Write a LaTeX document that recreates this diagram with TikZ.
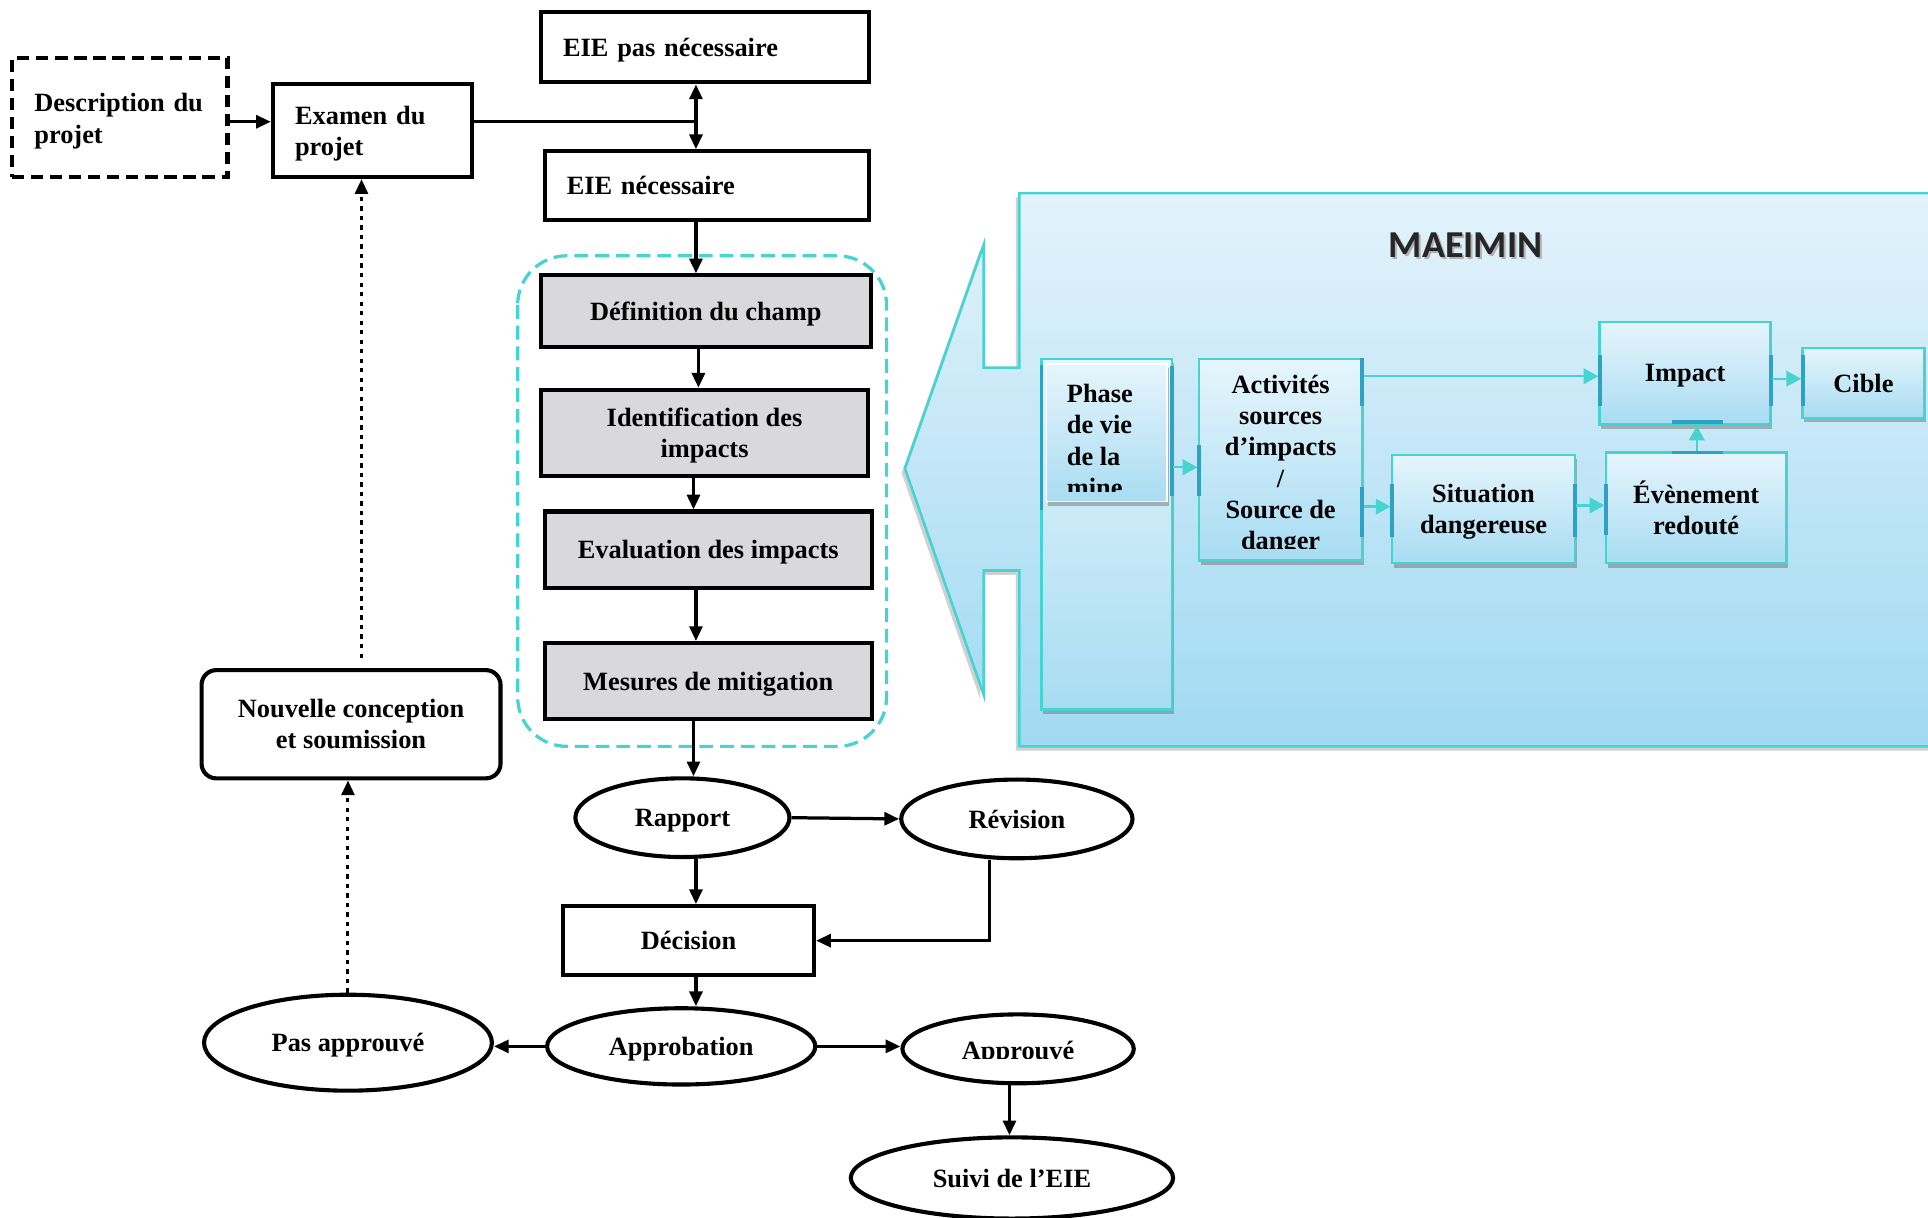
\documentclass[tikz,border=0pt]{standalone}
\usepackage{fontspec}
\setmainfont{Liberation Serif}
\newfontfamily\maeifont{Carlito}
\usepackage{tikz}
\usetikzlibrary{positioning}
\usetikzlibrary{shapes.geometric,arrows.meta,shadows}
\definecolor{cyanline}{HTML}{48D3D3}
\definecolor{panelTop}{HTML}{E3F3FB}
\definecolor{panelBot}{HTML}{A0D9F2}
\definecolor{boxTop}{HTML}{E6F5FC}
\definecolor{boxBot}{HTML}{A8DCF2}
\definecolor{greybox}{HTML}{D9D9DB}
\definecolor{accent}{HTML}{2EA2C4}

\tikzset{
  every node/.style = {font=\bfseries\fontsize{6.1}{7.2}\selectfont, inner sep=0pt, text depth=0pt},
  box/.style = {draw, line width=0.95pt},
  leftbox/.style = {box, align=left, inner xsep=0.18cm},
  greyb/.style = {box, fill=greybox, align=center, minimum width=2.66cm},
  ell/.style = {draw, ellipse, line width=0.95pt},
  arr/.style = {line width=0.75pt, -{Triangle[length=1.2mm,width=1.05mm]}},
  dots/.style = {line width=0.7pt, dash pattern=on 1pt off 1.2pt, -{Triangle[length=1.2mm,width=1.05mm]}},
  mbox/.style = {draw=cyanline, line width=0.6pt, top color=boxTop, bottom color=boxBot, align=center,
    drop shadow={shadow xshift=0.4pt, shadow yshift=-1pt, opacity=0.45, fill=black!60}},
  carr/.style = {cyanline, line width=0.55pt, -{Triangle[length=1.2mm,width=1.25mm]}},
  acc/.style = {accent, line width=0.9pt}
}

\begin{document}
\begin{tikzpicture}[x=0.01cm, y=-0.01cm]
\useasboundingbox (0,0) rectangle (1568,990);

% panneau MAEIMIN
\draw[cyanline, line width=0.6pt, top color=panelTop, bottom color=panelBot,
  drop shadow={shadow xshift=-0.8pt, shadow yshift=-1pt, opacity=0.3, fill=black!60}]
  (829,157) -- (1580,157) -- (1580,607) -- (829,607) -- (829,464) -- (800,464)
  -- (800,565) -- (736,381) -- (800,199) -- (800,299) -- (829,299) -- cycle;
\node[font=\maeifont\bfseries\fontsize{8.8}{10}\selectfont, text=black!30] (titreombre) at (1193.5,201) {MAEIMIN};
\node[font=\maeifont\bfseries\fontsize{8.8}{10}\selectfont, text=black!85] (titre) at (1192,199) {MAEIMIN};

\node[mbox, minimum width=1.06cm, minimum height=2.85cm] (phase) at (900,434.5) {};
\node[draw=white, line width=0.3pt, top color=boxTop, bottom color=boxBot,
  drop shadow={shadow xshift=0.4pt, shadow yshift=-1pt, opacity=0.45, fill=black!60},
  minimum width=0.98cm, minimum height=1.12cm] (phasein) at (900,352) {};
\begin{scope}
  \clip (851,296) rectangle (949,400);
  \node[anchor=north west, align=left] (phasetxt) at (867,312) {Phase\\de vie\\de la\\mine};
\end{scope}

\node[mbox, minimum width=1.33cm, minimum height=1.64cm] (act) at (1041.5,374) {};
\begin{scope}
  \clip (976,293) rectangle (1107,446);
  \node[align=center] (acttxt) at (1041.5,376) {Activités\\sources\\d’impacts\\/\\Source de\\danger};
\end{scope}
\node[mbox, minimum width=1.49cm, minimum height=0.88cm] (sit) at (1206.5,414) {Situation\\dangereuse};
\node[mbox, minimum width=1.47cm, minimum height=0.90cm] (even) at (1379.5,413) {Évènement\\redouté};
\node[mbox, minimum width=1.39cm, minimum height=0.83cm] (imp) at (1370.5,303.5) {Impact};
\node[mbox, minimum width=0.99cm, minimum height=0.57cm] (cible) at (1515.5,311.5) {Cible};

\foreach \xa/\ya/\xb/\yb in {1301/289/1301/330, 1440/289/1440/330, 1360/343/1401/343,
    1360/368/1401/368, 1306/394/1306/435, 1466/289/1466/330, 975/362/975/403,
    1108/291/1108/330, 1108/396/1108/437, 953/298/953/403, 847/297/847/415,
    1132/394/1132/437, 1281/394/1281/437}
  \draw[acc] (\xa,\ya) -- (\xb,\yb);

\draw[carr] (phase.east |- 0,380) -- (act.west |- 0,380);
\draw[carr] (act.east |- 0,412) -- (sit.west |- 0,412);
\draw[carr] (act.east |- 0,306) -- (imp.west |- 0,306);
\draw[carr] (sit.east |- 0,411) -- (even.west |- 0,411);
\draw[carr] (even.north -| 1380,0) -- (imp.south -| 1380,0);
\draw[carr] (imp.east |- 0,308) -- (cible.west |- 0,308);

% cadre des etapes de l'EIE
\draw[cyanline, line width=0.75pt, dash pattern=on 3.2pt off 1.6pt, rounded corners=0.4cm]
  (421,208) rectangle (721,607);

\node[leftbox, dash pattern=on 2.8pt off 1.6pt, text width=1.39cm, text depth=6.8pt, minimum height=0.97cm] (desc) at (97.5,95.5) {Description du\\projet};
\node[leftbox, text width=1.26cm, text depth=6.8pt, minimum height=0.76cm] (exam) at (303,106) {Examen du\\projet};
\node[leftbox, text width=2.31cm, minimum height=0.57cm] (pasnec) at (573.5,38.5) {EIE pas nécessaire};
\node[leftbox, text width=2.28cm, minimum height=0.56cm] (nec) at (575,151) {EIE nécessaire};

\node[greyb, minimum height=0.58cm, minimum width=2.68cm] (def) at (574,253) {Définition du champ};
\node[greyb, minimum height=0.70cm] (ident) at (573,352) {Identification des\\impacts};
\node[greyb, minimum height=0.62cm] (eval) at (576,447) {Evaluation des impacts};
\node[greyb, minimum height=0.62cm] (mes) at (576,554) {Mesures de mitigation};

\node[ell, minimum width=1.74cm, minimum height=0.64cm] (rap) at (555,665) {Rapport};
\node[ell, minimum width=1.88cm, minimum height=0.64cm] (rev) at (827,666) {Révision};
\node[box, minimum width=2.04cm, minimum height=0.56cm] (dec) at (560,765) {Décision};
\node[ell, minimum width=2.18cm, minimum height=0.62cm] (appro) at (554,851) {Approbation};
\node[ell, minimum width=2.34cm, minimum height=0.78cm] (pasap) at (283,848) {Pas approuvé};
\node[ell, minimum width=1.88cm, minimum height=0.56cm] (appv) at (828,853) {};
\begin{scope}
  \clip (740,835) rectangle (920,861);
  \node (appvtxt) at (828,854) {Approuvé};
\end{scope}
\node[ell, minimum width=2.62cm, minimum height=0.66cm] (suivi) at (823,958) {Suivi de l’EIE};
\node[box, rounded corners=0.12cm, align=center, minimum width=2.43cm, minimum height=0.88cm] (nouv) at (285.5,589) {Nouvelle conception\\et soumission};

\coordinate (jn) at (566,99);
\coordinate (dtop) at (294,535);
\draw[arr] (desc.east |- 0,99) -- (exam.west |- 0,99);
\draw[line width=0.75pt] (exam.east |- jn) -- (jn);
\draw[arr] (jn) -- (jn |- pasnec.south);
\draw[arr] (jn) -- (jn |- nec.north);
\draw[arr] (jn |- nec.south) -- (jn |- def.north);
\draw[arr] (def.south -| 568,0) -- (ident.north -| 568,0);
\draw[arr] (ident.south -| 564,0) -- (eval.north -| 564,0);
\draw[arr] (eval.south -| 566,0) -- (mes.north -| 566,0);
\draw[arr] (mes.south -| 564,0) -- (rap.north -| 564,0);
\draw[arr] (rap.east) -- (rev.west);
\draw[arr] (rap.south -| 566,0) -- (dec.north -| 566,0);
\draw[arr] (rev.south -| 805,0) |- (dec.east);
\draw[arr] (dec.south -| 566,0) -- (appro.north -| 566,0);
\draw[arr] (appro.west) -- (pasap.east |- appro.west);
\draw[arr] (appro.east) -- (appv.west |- appro.east);
\draw[arr] (appv.south -| 821,0) -- (suivi.north -| 821,0);
\draw[dots] (pasap.north) -- (pasap.north |- nouv.south);
\draw[dots] (dtop) -- (exam.south -| dtop);
\end{tikzpicture}
\end{document}
